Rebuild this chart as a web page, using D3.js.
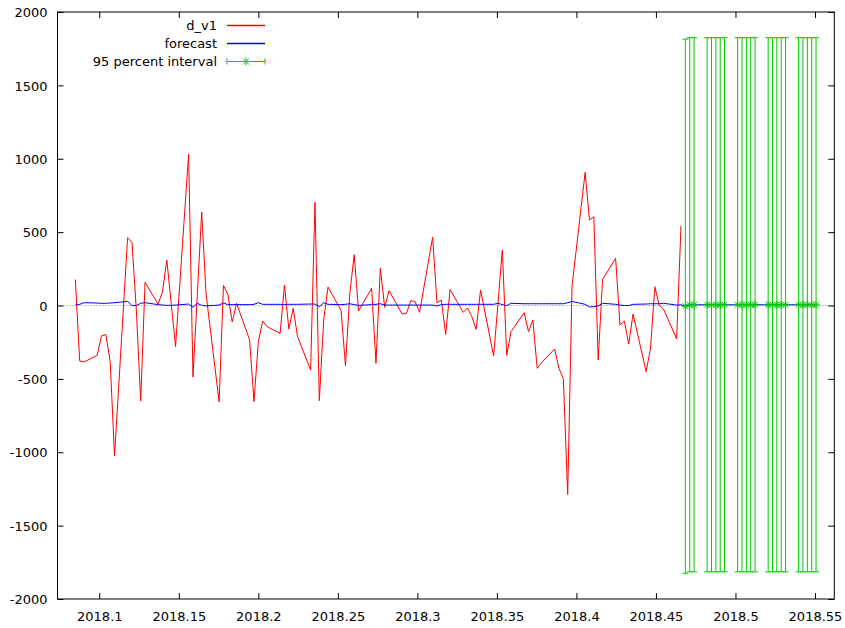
<!DOCTYPE html>
<html>
<head>
<meta charset="utf-8">
<script src="https://cdn.jsdelivr.net/npm/d3@7"></script>
<style>
  html, body { margin: 0; padding: 0; background: #fff; }
  svg { display: block; }
  text { font-family: "DejaVu Sans", sans-serif; font-size: 13px; fill: #000; }
</style>
</head>
<body>
<svg id="chart" width="845" height="628"></svg>
<script>
// ---- data (day of year 2018, 5-day calendar) ----
const obsDay = [31,32,33,
  36,37,38,39,40, 43,44,45,46,47, 50,51,52,53,54, 57,58,59,60,61,
  64,65,66,67,68, 71,72,73,74,75, 78,79,80,81,82, 85,86,87,88,89,
  92,93,94,95,96, 99,100,101,102,103, 106,107,108,109,110, 113,114,115,116,117,
  120,121,122,123,124, 127,128,129,130,131, 134,135,136,137,138, 141,142,143,144,145,
  148,149,150,151,152, 155,156,157,158,159, 162,163,164,165,166, 169,170];
const obsValue = [178,-378,-385,
  -340,-208,-197,-383,-1026, 462,430,-30,-651,158, 10,94,310,15,-280, 1032,-487,75,637,80,
  -657,137,76,-112,15, -235,-655,-246,-106,-144, -190,140,-160,-19,-212, -440,703,-648,-99,126,
  -35,-412,83,346,-37, 117,-394,253,-12,101, -58,-53,33,26,-47, 465,19,37,-197,110,
  -47,-17,-76,-163,106, -344,15,378,-340,-178, -49,-178,-99,-428,-390, -296,-428,-499,-1287,133,
  907,583,605,-371,178, 321,-133,-106,-262,-58, -451,-292,128,0,-24, -228,542];
const fitValue = [3,8,19,
  17,15,15,17,19, 28,-1,0,15,19, 6,3,1,1,3, 10,-12,15,1,-3,
  3,17,6,6,6, 6,8,19,8,8, 8,6,8,8,8, 10,10,-8,19,8,
  6,8,12,6,1, 6,8,12,3,3, 3,3,3,3,3, 3,-3,6,8,8,
  8,8,8,8,8, 8,15,6,-1,15, 12,12,12,12,12, 12,12,12,19,28,
  8,-10,-8,-3,15, 8,3,0,0,8, 10,12,12,12,15, 3,5];
const fcDay = [171,172,173, 176,177,178,179,180, 183,184,185,186,187,
  190,191,192,193,194, 197,198,199,200,201];
const fcValue = [-5,5,5, 5,5,5,5,5, 5,5,5,5,5, 5,5,5,5,5, 5,5,5,5,5];
const fcHalfWidth = [1820,1820,1820, 1820,1820,1820,1820,1820, 1820,1820,1820,1820,1820,
  1820,1820,1820,1820,1820, 1820,1820,1820,1820,1820];
const yTicks = [-2000,-1500,-1000,-500,0,500,1000,1500,2000];
const xTicks = [2018.1,2018.15,2018.2,2018.25,2018.3,2018.35,2018.4,2018.45,2018.5,2018.55];
const legendLabels = ["d_v1", "forecast", "95 percent interval"];

const RED = "#ff0000", BLUE = "#0000ff", GREEN = "#00cc00";
const toYear = d => 2018 + d / 365;

// ---- layout ----
const W = 845, H = 628;
const L = 57.5, R = 834.3, T = 12, B = 599;
const svg = d3.select("#chart");
const x = d3.scaleLinear().domain([2018.07372, 2018.56215]).range([L, R]);
const y = d3.scaleLinear().domain([-2000, 2000]).range([B, T]);

// zero axis (dotted)
svg.append("line")
  .attr("x1", L).attr("x2", R).attr("y1", y(0)).attr("y2", y(0))
  .attr("stroke", "#888").attr("stroke-width", 1).attr("stroke-dasharray", "1,2");

// axes with inward ticks, mirrored
const fmtX = d => String(+d.toFixed(2));
const fmtY = d => String(d);
const gB = svg.append("g").attr("transform", `translate(0,${B})`)
  .call(d3.axisBottom(x).tickValues(xTicks).tickSizeInner(-6).tickSizeOuter(0).tickPadding(14).tickFormat(fmtX));
const gT = svg.append("g").attr("transform", `translate(0,${T})`)
  .call(d3.axisTop(x).tickValues(xTicks).tickSizeInner(-6).tickSizeOuter(0).tickFormat(""));
const gL = svg.append("g").attr("transform", `translate(${L},0)`)
  .call(d3.axisLeft(y).tickValues(yTicks).tickSizeInner(-6).tickSizeOuter(0).tickPadding(10).tickFormat(fmtY));
const gR = svg.append("g").attr("transform", `translate(${R},0)`)
  .call(d3.axisRight(y).tickValues(yTicks).tickSizeInner(-6).tickSizeOuter(0).tickFormat(""));
[gB, gT, gL, gR].forEach(g => {
  g.select(".domain").remove();
  g.selectAll(".tick line").attr("stroke", "#000");
  g.selectAll(".tick text").style("font-family", "'DejaVu Sans', sans-serif").style("font-size", "13px").attr("fill", "#000");
});
gB.selectAll(".tick text").attr("dy", "0.71em").attr("y", 13);
gL.selectAll(".tick text").attr("dy", "0.36em");

// border
svg.append("rect").attr("x", L).attr("y", T).attr("width", R - L).attr("height", B - T)
  .attr("fill", "none").attr("stroke", "#000").attr("stroke-width", 1);

// observed series
const line = d3.line();
svg.append("path")
  .attr("d", line(obsDay.map((d, i) => [x(toYear(d)), y(obsValue[i])])))
  .attr("fill", "none").attr("stroke", RED).attr("stroke-width", 1);

// error bars
const capW = 3;
const eb = svg.append("g").attr("stroke", GREEN).attr("stroke-width", 1).attr("fill", "none");
fcDay.forEach((d, i) => {
  const cx = x(toYear(d));
  const lo = y(fcValue[i] - fcHalfWidth[i]), hi = y(fcValue[i] + fcHalfWidth[i]);
  eb.append("line").attr("x1", cx).attr("x2", cx).attr("y1", lo).attr("y2", hi);
  eb.append("line").attr("x1", cx - capW).attr("x2", cx + capW).attr("y1", lo).attr("y2", lo);
  eb.append("line").attr("x1", cx - capW).attr("x2", cx + capW).attr("y1", hi).attr("y2", hi);
});

// forecast line (fitted + forecast)
const fAll = obsDay.map((d, i) => [x(toYear(d)), y(fitValue[i])])
  .concat(fcDay.map((d, i) => [x(toYear(d)), y(fcValue[i])]));
svg.append("path").attr("d", line(fAll))
  .attr("fill", "none").attr("stroke", BLUE).attr("stroke-width", 1);

// star points
function star(g, cx, cy, r) {
  g.append("line").attr("x1", cx - r).attr("x2", cx + r).attr("y1", cy).attr("y2", cy);
  g.append("line").attr("x1", cx).attr("x2", cx).attr("y1", cy - r).attr("y2", cy + r);
  g.append("line").attr("x1", cx - r * 0.75).attr("x2", cx + r * 0.75).attr("y1", cy - r * 0.75).attr("y2", cy + r * 0.75);
  g.append("line").attr("x1", cx - r * 0.75).attr("x2", cx + r * 0.75).attr("y1", cy + r * 0.75).attr("y2", cy - r * 0.75);
}
const pts = svg.append("g").attr("stroke", GREEN).attr("stroke-width", 1);
fcDay.forEach((d, i) => star(pts, x(toYear(d)), y(fcValue[i]), 4));

// legend
const lg = svg.append("g");
const rowY = [25.5, 43.5, 61.5];
legendLabels.forEach((lab, i) => {
  lg.append("text").attr("x", 217).attr("y", rowY[i]).attr("dy", "0.35em")
    .attr("text-anchor", "end").text(lab);
});
lg.append("path").attr("d", d3.line()([[227, rowY[0]], [265, rowY[0]]]))
  .attr("fill", "none").attr("stroke", RED).attr("stroke-width", 1.5);
lg.append("path").attr("d", d3.line()([[227, rowY[1]], [265, rowY[1]]]))
  .attr("fill", "none").attr("stroke", BLUE).attr("stroke-width", 1.5);
const lg3 = lg.append("g").attr("stroke", GREEN).attr("stroke-width", 1);
lg3.append("line").attr("x1", 227).attr("x2", 265).attr("y1", rowY[2]).attr("y2", rowY[2]);
lg3.append("line").attr("x1", 227).attr("x2", 227).attr("y1", rowY[2] - 3).attr("y2", rowY[2] + 3);
lg3.append("line").attr("x1", 265).attr("x2", 265).attr("y1", rowY[2] - 3).attr("y2", rowY[2] + 3);
star(lg3, 246, rowY[2], 4);
</script>
</body>
</html>
